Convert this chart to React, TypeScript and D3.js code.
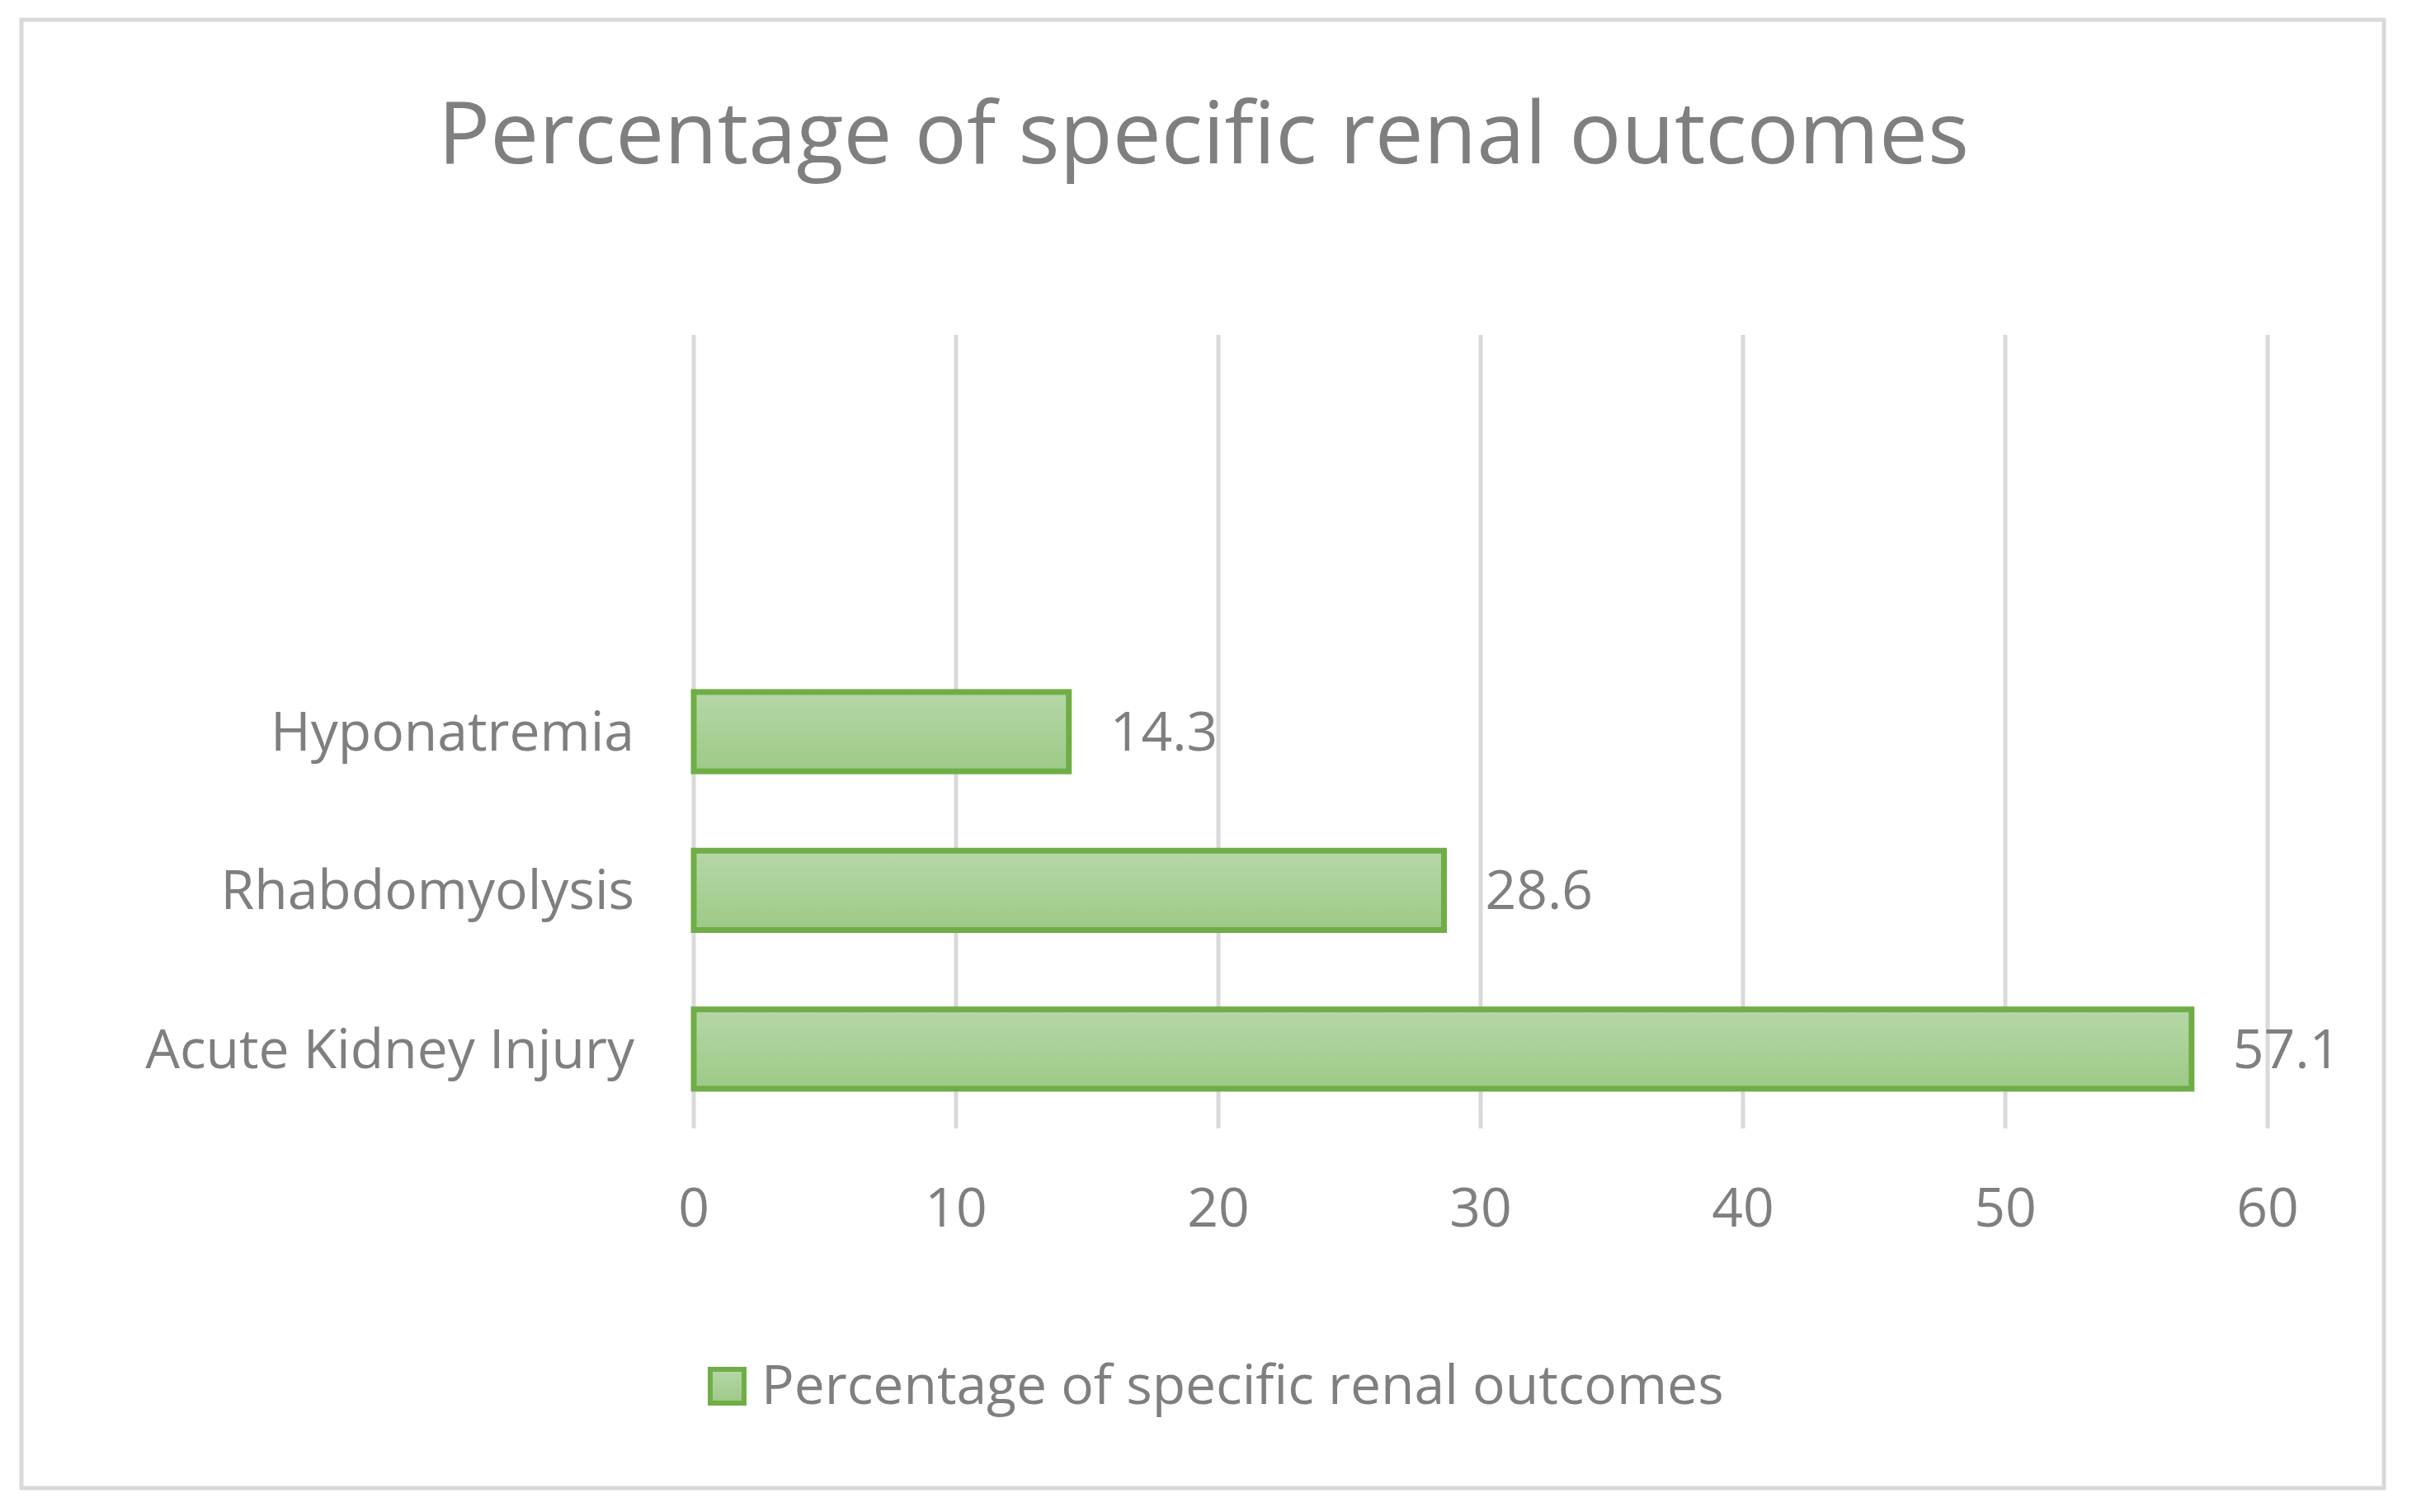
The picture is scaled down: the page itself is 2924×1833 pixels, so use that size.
import React from "react";
import * as d3 from "d3";

// ---- data ----
const categories = ["Acute Kidney Injury", "Rhabdomyolysis", "Hyponatremia", "", ""];
const values: (number | null)[] = [57.1, 28.6, 14.3, null, null];
const xTicks = [0, 10, 20, 30, 40, 50, 60];
const chartTitle = "Percentage of specific renal outcomes";
const seriesName = "Percentage of specific renal outcomes";

const WIDTH = 2924;
const HEIGHT = 1833;
const PLOT = { left: 841, right: 2749, top: 406, bottom: 1368 };
const TEXT = "#7f7f7f";
const GRID = "#d9d9d9";
const GREEN = "#70ad47";
const FONT = "'Open Sans', 'Noto Sans', sans-serif";

export default function App() {
  const xScale = d3
    .scaleLinear()
    .domain([0, d3.max(xTicks) || 60])
    .range([PLOT.left, PLOT.right]);

  // categories go bottom -> top like Excel's bar chart
  const yScale = d3
    .scaleBand<number>()
    .domain(d3.range(categories.length))
    .range([PLOT.bottom, PLOT.top])
    .paddingInner(0.5)
    .paddingOuter(0.25);

  const bw = yScale.bandwidth();

  const grid = xTicks.map((t) => (
    <g key={t}>
      <line
        x1={xScale(t)}
        x2={xScale(t)}
        y1={PLOT.top}
        y2={PLOT.bottom}
        stroke={GRID}
        strokeWidth={5}
      />
      <text x={xScale(t)} y={1487} textAnchor="middle" fontSize={66} fill={TEXT}>
        {t}
      </text>
    </g>
  ));

  const bars = categories.map((c, i) => {
    const y = yScale(i);
    if (y === undefined) return null;
    const cy = y + bw / 2;
    const v = values[i];
    return (
      <g key={i}>
        {c !== "" && (
          <text x={769} y={cy + 23} textAnchor="end" fontSize={66} fill={TEXT}>
            {c}
          </text>
        )}
        {v !== null && (
          <>
            <rect
              x={xScale(0)}
              y={y}
              width={xScale(v) - xScale(0)}
              height={bw}
              fill="url(#barGrad)"
              stroke={GREEN}
              strokeWidth={7}
            />
            <text x={xScale(v) + 50} y={cy + 23} fontSize={66} fill={TEXT}>
              {v.toFixed(1)}
            </text>
          </>
        )}
      </g>
    );
  });

  return (
    <div style={{ position: "absolute", left: 0, top: 0 }}>
      <svg width={WIDTH} height={HEIGHT} fontFamily={FONT} style={{ display: "block" }}>
        <defs>
          <linearGradient id="barGrad" x1="0" y1="0" x2="0" y2="1">
            <stop offset="0%" stopColor="#b6d7a8" />
            <stop offset="100%" stopColor="#9dca87" />
          </linearGradient>
        </defs>
        <rect width={WIDTH} height={HEIGHT} fill="#ffffff" />
        <rect
          x={26}
          y={24}
          width={2864}
          height={1780}
          fill="#ffffff"
          stroke={GRID}
          strokeWidth={5}
        />
        <text x={1459} y={198} textAnchor="middle" fontSize={105} fill={TEXT}>
          {chartTitle}
        </text>
        {grid}
        {bars}
        {/* legend */}
        <rect
          x={861}
          y={1660}
          width={41}
          height={41}
          fill="url(#barGrad)"
          stroke={GREEN}
          strokeWidth={6}
        />
        <text x={923} y={1702} fontSize={66} fill={TEXT}>
          {seriesName}
        </text>
      </svg>
    </div>
  );
}
